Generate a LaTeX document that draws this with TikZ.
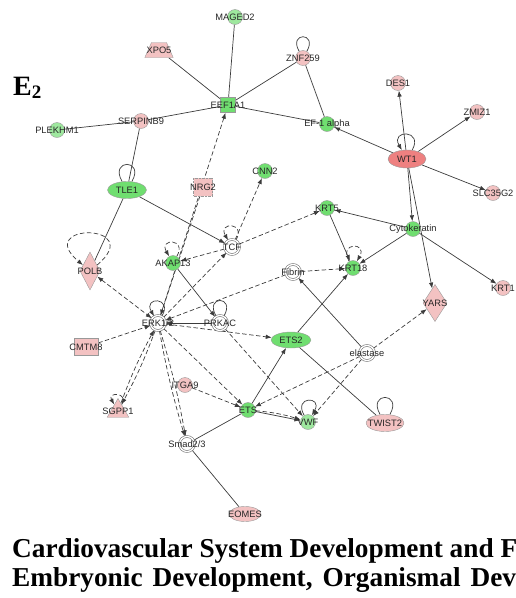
\documentclass[tikz,border=0pt]{standalone}
\usepackage{fontspec}
\setmainfont{Liberation Serif}
\setsansfont{Liberation Sans}
\usetikzlibrary{shapes.geometric,arrows.meta,backgrounds}
\definecolor{geneG}{RGB}{112,222,112}
\definecolor{geneLG}{RGB}{158,232,158}
\definecolor{geneP}{RGB}{243,194,194}
\definecolor{geneR}{RGB}{238,128,128}
\definecolor{edgeC}{RGB}{60,60,60}
\newcommand{\glab}{\fontsize{9.3}{10}\selectfont\sffamily}
\tikzset{
  gene/.style={draw=black!40,line width=0.4pt,inner sep=0pt,
    label={[font=\glab,text=black!85,inner sep=0pt]center:#1}},
  gc/.style={gene=#1,circle,minimum size=15pt,fill=geneG},
  lgc/.style={gene=#1,circle,minimum size=15pt,fill=geneLG},
  pc/.style={gene=#1,circle,minimum size=15pt,fill=geneP},
  grp/.style={gene=#1,circle,minimum size=15pt,fill=white,draw=black!55,
    line width=0.6pt,double=white,double distance=1.3pt},
  lnk/.style={draw=edgeC,line width=0.7pt},
  dsh/.style={lnk,dash pattern=on 4.5pt off 2.5pt},
  act/.style={-{Latex[length=6pt,width=4.5pt]}},
}
\begin{document}
\begin{tikzpicture}[x=1pt,y=1pt]
\useasboundingbox (0,0) rectangle (515,-598);
\clip (0,0) rectangle (515,-598);

% panel letter
\node[font=\fontsize{28}{30}\selectfont\bfseries,anchor=base west,inner sep=0pt]
  (panel) at (13,-95) {E\raisebox{-0.3ex}{\fontsize{19}{20}\selectfont 2}};

% genes
\node[lgc=MAGED2] (maged2) at (235,-17) {};
\node[gene=XPO5,trapezium,trapezium left angle=66,trapezium right angle=66,
  inner sep=2pt,minimum width=15pt,minimum height=15pt,fill=geneP] (xpo5) at (159,-50) {};
\node[pc=ZNF259] (znf259) at (303,-58) {};
\node[gene=EEF1A1,rectangle,minimum size=15pt,fill=geneG] (eef1a1) at (228,-105) {};
\node[pc=SERPINB9] (serpinb9) at (141,-121) {};
\node[lgc=PLEKHM1] (plekhm1) at (57,-130) {};
\node[gc=EF-1 alpha] (ef1a) at (327,-124) {};
\node[pc=DES1] (des1) at (398,-83) {};
\node[pc=ZMIZ1] (zmiz1) at (477,-112) {};
\node[gene=WT1,ellipse,minimum width=38pt,minimum height=18pt,fill=geneR] (wt1) at (407,-159) {};
\node[pc=SLC35G2] (slc35g2) at (493,-193) {};
\node[gene=TLE1,ellipse,minimum width=39pt,minimum height=17pt,fill=geneG] (tle1) at (127,-190) {};
\node[gene=NRG2,rectangle,minimum width=19pt,minimum height=18pt,fill=geneP,densely dotted] (nrg2) at (203,-187) {};
\node[gc=CNN2] (cnn2) at (265,-171) {};
\node[gc=KRT5] (krt5) at (327,-208) {};
\node[gc=Cytokeratin] (cytok) at (413,-229) {};
\node[grp=TCF] (tcf) at (232,-247) {};
\node[gc=AKAP13] (akap13) at (173,-263) {};
\node[gene=POLB,diamond,minimum width=20pt,minimum height=38pt,fill=geneP] (polb) at (90,-271) {};
\node[grp=Fibrin] (fibrin) at (293,-272) {};
\node[gc=KRT18] (krt18) at (353,-268) {};
\node[gene=YARS,diamond,minimum width=24pt,minimum height=37pt,fill=geneP] (yars) at (435,-303) {};
\node[pc=KRT1] (krt1) at (503,-288) {};
\node[grp=ERK1/2] (erk) at (158,-323) {};
\node[grp=PRKAC] (prkac) at (220,-323) {};
\node[gene=CMTM8,rectangle,minimum width=24pt,minimum height=17pt,fill=geneP] (cmtm8) at (86,-347) {};
\node[gene=ETS2,ellipse,minimum width=40pt,minimum height=16pt,fill=geneG] (ets2) at (291,-340) {};
\node[grp=elastase] (elastase) at (367,-353) {};
\node[gene=SGPP1,regular polygon,regular polygon sides=3,minimum size=25pt,fill=geneP] (sgpp1) at (118,-411) {};
\node[pc=ITGA9] (itga9) at (185,-385) {};
\node[gc=ETS] (ets) at (248,-410) {};
\node[lgc=VWF] (vwf) at (308,-422) {};
\node[gene=TWIST2,ellipse,minimum width=38pt,minimum height=17pt,fill=geneP] (twist2) at (385,-423) {};
\node[grp=Smad2/3] (smad) at (187,-444) {};
\node[gene=EOMES,ellipse,minimum width=32pt,minimum height=15pt,fill=geneP] (eomes) at (245,-514) {};

% caption
\node[font=\fontsize{27.3}{30}\selectfont\bfseries,anchor=base west,inner sep=0pt]
  (cap1) at (12,-557) {Cardiovascular System Development and F};
\node[font=\fontsize{27.3}{30}\selectfont\bfseries,anchor=base west,inner sep=0pt]
  (cap2) at (12,-586) {\spaceskip=10pt\relax Embryonic Development, Organismal Dev};

\begin{scope}[on background layer]
% plain links
\draw[lnk] (maged2) -- (eef1a1);
\draw[lnk] (xpo5) -- (eef1a1);
\draw[lnk] (znf259) -- (eef1a1);
\draw[lnk] (serpinb9) -- (eef1a1);
\draw[lnk] (plekhm1) -- (serpinb9);
\draw[lnk] (eef1a1) -- (ef1a);
\draw[lnk] (znf259) -- (ef1a);
\draw[lnk] (serpinb9) -- (tle1);
\draw[lnk] (tle1) -- (polb);
\draw[lnk] (ets2) -- (twist2);
\draw[lnk] (ets) -- (smad);
\draw[lnk] (smad) -- (eomes);
% direct acts
\draw[lnk,act] (wt1) -- (ef1a);
\draw[lnk,act] (wt1) -- (des1);
\draw[lnk,act] (wt1) -- (zmiz1);
\draw[lnk,act] (wt1) -- (slc35g2);
\draw[lnk,act] (wt1) -- (cytok);
\draw[lnk,act] (wt1) -- (yars);
\draw[lnk,act] (cytok) -- (krt5);
\draw[lnk,act] (cytok) -- (krt18);
\draw[lnk,act] (cytok) -- (krt1);
\draw[lnk,act] (krt5) -- (krt18);
\draw[lnk,act] (tle1) -- (tcf);
\draw[lnk,act] (akap13) -- (prkac);
\draw[lnk,act] (prkac) -- (erk);
\draw[lnk,act] (ets) -- (ets2);
\draw[lnk,act] (ets2) -- (krt18);
\draw[lnk,act] (elastase) -- (fibrin);
\draw[lnk,act] (ets) -- (vwf);
% indirect acts
\draw[dsh,act] (erk) -- (eef1a1);
\draw[dsh,act] (nrg2) -- (erk);
\draw[dsh,act] (tcf) -- (cnn2);
\draw[dsh,act] (tcf) -- (krt5);
\draw[dsh,act] (tcf) -- (akap13);
\draw[dsh,act] (erk) -- (tcf);
\draw[dsh,{Latex[length=6pt,width=4.5pt]}-{Latex[length=6pt,width=4.5pt]}] (polb) -- (erk);
\draw[dsh,act] (cmtm8) -- (erk);
\draw[dsh,act] (sgpp1) to[bend left=4] (erk);
\draw[dsh,act] (erk) to[bend left=4] (sgpp1);
\draw[dsh,act] (fibrin) -- (krt18);
\draw[dsh,act] (fibrin) -- (erk);
\draw[dsh,act] (erk) -- (ets2);
\draw[dsh,act] (erk) -- (ets);
\draw[dsh,act] (erk) to[bend left=3] (smad);
\draw[dsh,act] (erk) to[bend right=3] (smad);
\draw[dsh,act] (itga9) -- (ets);
\draw[dsh,act] (prkac) -- (vwf);
\draw[dsh,act] (elastase) -- (ets);
\draw[dsh,act] (elastase) -- (vwf);
\draw[dsh,act] (elastase) -- (yars);
\draw[dsh,act] (ets) to[bend left=6] (vwf);
% self loops
\draw[lnk] (znf259) to[out=60,in=120,looseness=7.5] (znf259);
\draw[lnk] (tle1) to[out=60,in=120,looseness=7] (tle1);
\draw[lnk,act] (wt1) to[out=60,in=120,looseness=6] (wt1);
\draw[lnk,act] (erk) to[out=60,in=120,looseness=7.5] (erk);
\draw[lnk] (prkac) to[out=60,in=120,looseness=8] (prkac);
\draw[lnk,act] (vwf) to[out=120,in=60,looseness=7.5] (vwf);
\draw[lnk] (twist2) to[out=60,in=120,looseness=7] (twist2);
\draw[dsh,act] (polb) to[out=40,in=140,looseness=12] (polb);
\draw[dsh,act] (tcf) to[out=60,in=120,looseness=7] (tcf);
\draw[dsh,act] (akap13) to[out=60,in=120,looseness=7] (akap13);
\draw[dsh,act] (krt18) to[out=120,in=60,looseness=7.5] (krt18);
\draw[dsh,act] (sgpp1) to[out=60,in=120,looseness=5] (sgpp1);
\end{scope}
\end{tikzpicture}
\end{document}
